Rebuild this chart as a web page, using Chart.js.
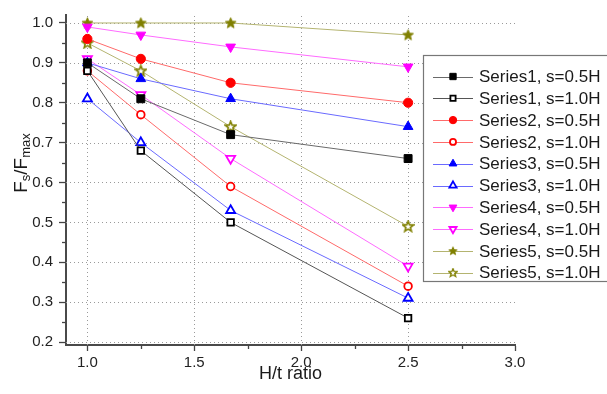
<!DOCTYPE html>
<html>
<head>
<meta charset="utf-8">
<script src="https://cdn.jsdelivr.net/npm/chart.js@4.4.1/dist/chart.umd.min.js"></script>
<style>
html,body{margin:0;padding:0;background:#fff;}
#wrap{width:607px;height:394px;}
</style>
</head>
<body>
<div id="wrap"><canvas id="c" width="607" height="394"></canvas></div>
<script>
// ---- data ----
const xValues = [1.0, 1.25, 1.67, 2.5];
const s1_05 = [0.90, 0.81, 0.72, 0.66];
const s1_10 = [0.88, 0.68, 0.50, 0.26];
const s2_05 = [0.96, 0.91, 0.85, 0.80];
const s2_10 = [0.88, 0.77, 0.59, 0.34];
const s3_05 = [0.90, 0.86, 0.81, 0.74];
const s3_10 = [0.81, 0.70, 0.53, 0.31];
const s4_05 = [0.99, 0.97, 0.94, 0.89];
const s4_10 = [0.91, 0.82, 0.66, 0.39];
const s5_05 = [1.00, 1.00, 1.00, 0.97];
const s5_10 = [0.95, 0.88, 0.74, 0.49];
const seriesLabels = ['Series1, s=0.5H','Series1, s=1.0H','Series2, s=0.5H','Series2, s=1.0H',
  'Series3, s=0.5H','Series3, s=1.0H','Series4, s=0.5H','Series4, s=1.0H','Series5, s=0.5H','Series5, s=1.0H'];
const xTicks = [1.0, 1.5, 2.0, 2.5, 3.0];
const yTicks = [0.2, 0.3, 0.4, 0.5, 0.6, 0.7, 0.8, 0.9, 1.0];

function starCanvas(fill, stroke, lw){
  const c = document.createElement('canvas');
  c.width = 13; c.height = 13;
  const g = c.getContext('2d');
  const cx = 6.5, cy = 6.8, R = 5.6, r = 2.4;
  g.beginPath();
  for (let i = 0; i < 10; i++){
    const rad = (i % 2 === 0) ? R : r;
    const a = -Math.PI/2 + i*Math.PI/5;
    const px = cx + rad*Math.cos(a), py = cy + rad*Math.sin(a);
    if (i === 0) g.moveTo(px, py); else g.lineTo(px, py);
  }
  g.closePath();
  g.fillStyle = fill; g.fill();
  g.lineWidth = lw; g.strokeStyle = stroke; g.lineJoin = 'miter'; g.stroke();
  return c;
}
const starFilled = starCanvas('#808000', '#808000', 1);
const starOpen = starCanvas('#ffffff', '#808000', 1.6);

function mk(label, vals, lineColor, markColor, style, filled, radius, rotation){
  return {
    label: label,
    data: xValues.map((x,i)=>({x:x, y:vals[i]})),
    showLine: true,
    borderColor: lineColor,
    borderWidth: 1,
    pointStyle: style,
    pointRotation: rotation || 0,
    pointRadius: radius,
    pointHoverRadius: radius,
    pointBackgroundColor: filled ? markColor : '#ffffff',
    pointBorderColor: markColor,
    pointBorderWidth: filled ? 1 : 1.8
  };
}

const datasets = [
  mk(seriesLabels[0], s1_05, '#6a6a6a', '#000000', 'rect', true, 5.6),
  mk(seriesLabels[1], s1_10, '#555555', '#000000', 'rect', false, 4.6),
  mk(seriesLabels[2], s2_05, '#ff6a6a', '#ff0000', 'circle', true, 4.6),
  mk(seriesLabels[3], s2_10, '#ff6a6a', '#ff0000', 'circle', false, 3.8),
  mk(seriesLabels[4], s3_05, '#6a6aff', '#0000ff', 'triangle', true, 5.6),
  mk(seriesLabels[5], s3_10, '#6a6aff', '#0000ff', 'triangle', false, 5.2),
  mk(seriesLabels[6], s4_05, '#ff6aff', '#ff00ff', 'triangle', true, 5.6, 180),
  mk(seriesLabels[7], s4_10, '#ff6aff', '#ff00ff', 'triangle', false, 5.2, 180),
  mk(seriesLabels[8], s5_05, '#b4b470', '#808000', starFilled, true, 6),
  mk(seriesLabels[9], s5_10, '#b4b470', '#808000', starOpen, false, 6)
];

const FONT = "'Liberation Sans', Arial, sans-serif";

const gridPlugin = {
  id: 'dotgrid',
  beforeDatasetsDraw(chart){
    const ctx = chart.ctx;
    const xs = chart.scales.x, ys = chart.scales.y;
    const ca = chart.chartArea;
    ctx.save();
    ctx.strokeStyle = '#9a9a9a'; ctx.lineWidth = 1;
    ctx.setLineDash([1, 3]);
    xTicks.forEach(v=>{
      if (v >= 2.99) return;
      const px = Math.round(xs.getPixelForValue(v)) + 0.5;
      ctx.beginPath(); ctx.moveTo(px, ca.bottom); ctx.lineTo(px, ca.top); ctx.stroke();
    });
    yTicks.forEach(v=>{
      const py = Math.round(ys.getPixelForValue(v)) + 0.5;
      ctx.beginPath(); ctx.moveTo(ca.left, py); ctx.lineTo(ca.right, py); ctx.stroke();
    });
    ctx.restore();
  }
};

const decorPlugin = {
  id: 'decor',
  afterDraw(chart){
    const ctx = chart.ctx;
    const xs = chart.scales.x, ys = chart.scales.y;
    const ca = chart.chartArea;
    ctx.save();
    // minor ticks
    ctx.strokeStyle = '#444'; ctx.lineWidth = 1.3;
    for (let i = 0; i < xTicks.length-1; i++){
      const px = Math.round(xs.getPixelForValue((xTicks[i]+xTicks[i+1])/2)) + 0.5;
      ctx.beginPath(); ctx.moveTo(px, ca.bottom); ctx.lineTo(px, ca.bottom+4); ctx.stroke();
    }
    for (let i = 0; i < yTicks.length-1; i++){
      const py = Math.round(ys.getPixelForValue((yTicks[i]+yTicks[i+1])/2)) + 0.5;
      ctx.beginPath(); ctx.moveTo(ca.left, py); ctx.lineTo(ca.left-4, py); ctx.stroke();
    }
    // x title
    ctx.fillStyle = '#1a1a1a';
    ctx.font = '18px ' + FONT;
    ctx.textAlign = 'center'; ctx.textBaseline = 'alphabetic';
    ctx.fillText('H/t ratio', (ca.left+ca.right)/2, 379);
    // y title with subscripts
    const mainF = '19px ' + FONT, subF = '13px ' + FONT;
    const parts = [['F',0],['s',1],['/F',0],['max',1]];
    let total = 0;
    parts.forEach(p=>{ ctx.font = p[1]?subF:mainF; total += ctx.measureText(p[0]).width; });
    ctx.translate(27, 163);
    ctx.rotate(-Math.PI/2);
    ctx.textAlign = 'left';
    let xx = -total/2;
    parts.forEach(p=>{
      ctx.font = p[1]?subF:mainF;
      ctx.fillText(p[0], xx, p[1]?3:0);
      xx += ctx.measureText(p[0]).width;
    });
    ctx.restore();

    // legend
    ctx.save();
    ctx.fillStyle = '#ffffff';
    ctx.fillRect(423.5, 55.5, 200, 226);
    ctx.strokeStyle = '#777'; ctx.lineWidth = 1.2;
    ctx.strokeRect(423.5, 55.5, 200, 226);
    ctx.font = '17px ' + FONT;
    ctx.textBaseline = 'middle'; ctx.textAlign = 'left';
    chart.data.datasets.forEach((ds, i)=>{
      const y = 76.5 + i*21.8;
      ctx.strokeStyle = ds.borderColor; ctx.lineWidth = 1;
      ctx.beginPath(); ctx.moveTo(433, Math.round(y)+0.5); ctx.lineTo(473, Math.round(y)+0.5); ctx.stroke();
      ctx.fillStyle = ds.pointBackgroundColor;
      ctx.strokeStyle = ds.pointBorderColor;
      ctx.lineWidth = ds.pointBorderWidth;
      const opts = {pointStyle: ds.pointStyle, rotation: ds.pointRotation, radius: ds.pointRadius*0.8, borderWidth: ds.pointBorderWidth};
      if (typeof ds.pointStyle === 'object'){
        const img = ds.pointStyle;
        ctx.drawImage(img, 453 - img.width*0.4, y - img.height*0.4, img.width*0.8, img.height*0.8);
      } else {
        Chart.helpers.drawPoint(ctx, opts, 453, y);
      }
      ctx.fillStyle = '#1a1a1a';
      ctx.fillText(ds.label, 479, y + 1);
    });
    ctx.restore();
  }
};

new Chart(document.getElementById('c'), {
  type: 'scatter',
  data: { datasets: datasets },
  options: {
    responsive: false,
    animation: false,
    events: [],
    layout: { padding: { top: 13, right: 92, left: 0, bottom: 0 } },
    plugins: { legend: { display: false }, tooltip: { enabled: false } },
    scales: {
      x: {
        type: 'linear', min: 0.9, max: 3.0,
        afterBuildTicks(s){ s.ticks = xTicks.map(v=>({value:v})); },
        afterFit(s){ s.height = 49; },
        ticks: { font: { size: 15, family: FONT }, color: '#222', padding: 3, callback: v => Number(v).toFixed(1) },
        grid: { color: 'rgba(0,0,0,0)', drawOnChartArea: false, tickLength: 6, tickColor: '#444', tickWidth: 1.3 },
        border: { display: true, color: '#4a4a4a', width: 2 }
      },
      y: {
        type: 'linear', min: 0.1925, max: 1.02,
        afterBuildTicks(s){ s.ticks = yTicks.map(v=>({value:v})); },
        afterFit(s){ s.width = 66; },
        ticks: { font: { size: 15, family: FONT }, color: '#222', padding: 6, callback: v => Number(v).toFixed(1) },
        grid: { color: 'rgba(0,0,0,0)', drawOnChartArea: false, tickLength: 7, tickColor: '#444', tickWidth: 1.3 },
        border: { display: true, color: '#4a4a4a', width: 2 }
      }
    }
  },
  plugins: [gridPlugin, decorPlugin]
});
</script>
</body>
</html>
